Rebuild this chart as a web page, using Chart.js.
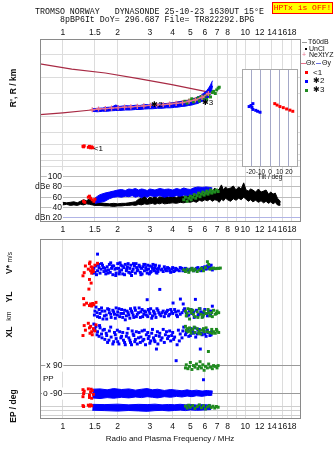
<!DOCTYPE html>
<html>
<head>
<meta charset="utf-8">
<script src="https://cdn.jsdelivr.net/npm/chart.js@4.4.1/dist/chart.umd.min.js"></script>
<style>
  body { margin: 0; width: 335px; height: 451px; position: relative; overflow: hidden; background: #fff;
         font-family: "Liberation Sans", Arial, sans-serif; color: #111; }
  canvas { position: absolute; }
  .txt { position: absolute; white-space: pre; line-height: 10px; font-size: 8px; }
  .lg { font-size: 7px; }
  .mono { font-family: "Liberation Mono", "DejaVu Sans Mono", monospace; font-size: 8.3px; }
  .rot { position: absolute; white-space: nowrap; transform: translate(-50%, -50%) rotate(-90deg);
         font-weight: bold; font-size: 8.5px; line-height: 10px; }
  .sw { position: absolute; }
</style>
</head>
<body>
<canvas id="cTop" width="335" height="236" style="left:0;top:0"></canvas>
<canvas id="cLow" width="335" height="216" style="left:0;top:235px"></canvas>
<canvas id="cTilt" width="66" height="118" style="left:236px;top:65px"></canvas>

<div class="txt mono" style="left:35px;top:7px">TROMSO NORWAY   DYNASONDE 25-10-23 1630UT 15°E</div>
<div class="txt mono" style="left:60px;top:15px">8pBP6It DoY= 296.687 File= TR822292.BPG</div>
<div class="txt mono" style="left:272px;top:2px;width:61px;height:12px;box-sizing:border-box;border:1px solid #f00;background:#ff0;color:#f00;text-align:center;font-size:8px">HPTx is OFF!</div>

<!-- legend -->
<div class="sw" style="left:302px;top:42px;width:5px;height:1px;background:#999"></div>
<div class="txt lg" style="left:308px;top:37px">T60dB</div>
<div class="sw" style="left:305px;top:48px;width:2px;height:2px;background:#000"></div>
<div class="txt lg" style="left:309px;top:44px">UnCl</div>
<div class="txt lg" style="left:302px;top:50px;color:#e8708a">+</div>
<div class="txt lg" style="left:309px;top:50px">NeXtYZ</div>
<div class="sw" style="left:301px;top:63px;width:5px;height:1px;background:#e8708a"></div>
<div class="txt lg" style="left:306px;top:58px">Θx</div>
<div class="sw" style="left:316px;top:63px;width:5px;height:1px;background:#6870e0"></div>
<div class="txt lg" style="left:322px;top:58px">Θy</div>
<div class="sw" style="left:305px;top:71px;width:3px;height:3px;background:#f00"></div>
<div class="txt" style="left:313px;top:68px">&lt;1</div>
<div class="sw" style="left:305px;top:80px;width:3px;height:3px;background:#00f"></div>
<div class="txt" style="left:313px;top:76px">✱2</div>
<div class="sw" style="left:305px;top:89px;width:3px;height:3px;background:#1f8a1f"></div>
<div class="txt" style="left:313px;top:85px">✱3</div>

<!-- axis titles -->
<div class="rot" style="left:13px;top:88px">R', R / km</div>
<div class="rot" style="left:9px;top:263px">V* <span style="font-size:6.5px;font-weight:normal">m/s</span></div>
<div class="rot" style="left:9px;top:297px">YL</div>
<div class="rot" style="left:9px;top:316px;font-size:7px;font-weight:normal">km</div>
<div class="rot" style="left:9px;top:332px">XL</div>
<div class="rot" style="left:13px;top:406px">EP / deg</div>
<div class="txt" style="left:43px;top:374px">PP</div>
<div class="txt" style="left:170px;top:434px;transform:translateX(-50%)">Radio and Plasma Frequency / MHz</div>
<div class="txt" style="left:270px;top:172px;transform:translateX(-50%);font-size:6.5px">Tilt / deg</div>

<script>
var FONT = '"Liberation Sans", Arial, sans-serif';

// ---- axes
var freqTicks = [1, 1.5, 2, 3, 4, 5, 6, 7, 8, 9, 10, 12, 14, 16, 18];
var freqLabelsTop = ['1', '1.5', '2', '3', '4', '5', '6', '7', '8', '', '10', '12', '14', '16', '18'];
var freqLabelsMid = ['1', '1.5', '2', '3', '4', '5', '6', '7', '8', '9', '10', '12', '14', '16', '18'];
var rangeTicks = [80, 90, 100, 120, 150, 200, 300, 400, 600, 800];
var rangeLabels = ['80', '90', '100', '120', '150', '200', '300', '400', '600', '800'];
var dbTicks = [20, 40, 60, 80, 100];
var dbLabels = ['dBn 20', '40', '60', 'dBe 80', '100'];
var tiltTicks = [-20, -10, 0, 10, 20];
var tiltLabels = ['-20', '-10', '0', '10', '20'];
var vTicks = [100, 0, -100];
var vLabels = ['100', '0', '+-100'];
var ylTicks = [0, -100];
var ylLabels = ['0', '+-100'];
var xlTicks = [0, -100];
var xlLabels = ['0', '-100'];
var ppTicks = [90, -90];
var ppLabels = ['x 90', 'o -90'];
var epTicks = [10, 1, 0.1];
var epLabels = ['10.', '', '0.1'];

// ---- R' (km) vs f (MHz)
var thetaUpper = [[0.75, 512], [1.12, 466], [1.71, 434], [2.6, 392], [3.96, 352], [6.02, 312], [6.3, 306]];
var thetaLower = [[0.75, 205], [1.0, 212], [1.39, 222], [2.0, 232], [3.0, 243], [4.0, 254], [5.0, 268], [5.7, 285], [6.3, 306]];
var neXtYZ = [[1.45, 224], [1.57, 227], [1.71, 229], [1.85, 231], [2.01, 233], [2.18, 235], [2.36, 236], [2.56, 238],
  [2.78, 240], [3.02, 242], [3.27, 244], [3.55, 246], [3.85, 248], [4.18, 251], [4.53, 255], [4.92, 261],
  [5.33, 268], [5.79, 280], [6.28, 300]];
var x2Low = [[1.45, 218], [1.55, 216], [1.65, 218], [1.75, 218], [1.85, 220], [1.95, 221], [2.05, 221], [2.2, 223],
  [2.35, 223], [2.5, 225], [2.65, 225], [2.8, 227], [2.95, 228], [3.1, 228], [3.3, 230], [3.5, 230], [3.7, 232],
  [3.9, 232], [4.1, 234], [4.3, 235], [4.5, 238], [4.7, 239], [4.9, 242], [5.1, 244], [5.3, 248], [5.5, 251],
  [5.7, 258], [5.9, 263], [6.1, 270], [6.3, 280], [6.45, 298], [6.55, 320], [6.62, 345]];
var x2High = [[1.45, 228], [1.55, 230], [1.65, 231], [1.75, 234], [1.85, 235], [1.95, 244], [2.05, 238], [2.2, 241],
  [2.35, 240], [2.5, 243], [2.65, 242], [2.8, 246], [2.95, 245], [3.1, 248], [3.3, 247], [3.5, 250], [3.7, 249],
  [3.9, 253], [4.1, 253], [4.3, 258], [4.5, 259], [4.7, 264], [4.9, 265], [5.1, 271], [5.3, 274], [5.5, 283],
  [5.7, 289], [5.9, 301], [6.1, 311], [6.3, 331], [6.45, 350], [6.55, 368], [6.62, 378]];
var x3Range = [[4.67, 261], [4.8, 252], [4.95, 266], [5.09, 273], [5.2, 258], [5.35, 270], [5.53, 278], [5.6, 262],
  [5.75, 284], [5.9, 275], [6.02, 288], [6.15, 270], [6.3, 295], [6.45, 282], [6.6, 305], [6.7, 312], [6.85, 300],
  [6.97, 320], [7.1, 330], [7.2, 336]];
var r1Range = [[1.29, 116], [1.3, 115], [1.31, 117], [1.38, 114], [1.4, 116], [1.42, 113], [1.44, 115], [1.46, 113]];
var traceLabels = [[1.48, 111, '<1'], [3.05, 246, '✱2'], [5.78, 256, '✱3']];

// ---- tilt inset (deg, km)
var tiltBlue = [[-18, 262], [-20, 253], [-22, 248], [-19, 244], [-18, 235], [-15, 231], [-13, 227], [-10.5, 223]];
var tiltRed = [[5, 262], [7.5, 255], [10.5, 248], [14, 243], [17.5, 237], [21, 232], [24, 227]];

// ---- amplitude dB
var dbBlackLow = [[1.0, 45], [1.05, 46], [1.1, 44], [1.15, 45], [1.2, 44], [1.25, 46], [1.3, 45], [1.35, 47], [1.4, 46],
  [1.45, 45], [1.5, 44], [1.6, 44], [1.7, 43], [1.8, 43], [1.9, 42], [2.0, 43], [2.1, 43], [2.2, 44], [2.3, 44],
  [2.4, 45], [2.5, 44], [2.6, 46], [2.7, 45], [2.8, 47], [2.9, 46], [3.0, 47], [3.1, 48], [3.2, 46], [3.3, 48],
  [3.4, 47], [3.5, 49], [3.6, 47], [3.8, 48], [4.0, 49], [4.2, 48], [4.4, 50], [4.6, 49], [4.8, 51], [5.0, 50],
  [5.2, 52], [5.4, 50], [5.6, 54], [5.8, 52], [6.0, 55], [6.2, 53], [6.4, 56], [6.6, 52], [6.8, 55], [7.0, 54],
  [7.2, 50], [7.4, 56], [7.6, 53], [7.8, 58], [8.0, 55], [8.3, 52], [8.6, 57], [8.9, 54], [9.2, 58], [9.5, 55],
  [9.8, 60], [10.1, 56], [10.4, 52], [10.7, 55], [11.0, 51], [11.4, 54], [11.8, 50], [12.2, 53], [12.6, 49],
  [13.0, 52], [13.4, 48], [13.8, 51], [14.2, 47], [14.6, 50], [15.0, 45], [15.4, 44], [15.6, 45]];
var dbBlackHigh = [[1.0, 50], [1.05, 49], [1.1, 50], [1.15, 51], [1.2, 49], [1.25, 52], [1.3, 55], [1.35, 53], [1.4, 57],
  [1.45, 54], [1.5, 52], [1.6, 49], [1.7, 48], [1.8, 47], [1.9, 48], [2.0, 47], [2.1, 48], [2.2, 48], [2.3, 49],
  [2.4, 50], [2.5, 51], [2.6, 56], [2.7, 58], [2.8, 64], [2.9, 55], [3.0, 60], [3.1, 58], [3.2, 62], [3.3, 57],
  [3.4, 61], [3.5, 59], [3.6, 63], [3.8, 60], [4.0, 62], [4.2, 59], [4.4, 64], [4.6, 61], [4.8, 65], [5.0, 62],
  [5.2, 68], [5.4, 64], [5.6, 70], [5.8, 66], [6.0, 72], [6.2, 68], [6.4, 75], [6.6, 70], [6.8, 78], [7.0, 72],
  [7.2, 76], [7.4, 84], [7.6, 74], [7.8, 80], [8.0, 76], [8.3, 78], [8.6, 82], [8.9, 74], [9.2, 80], [9.5, 76],
  [9.8, 88], [10.1, 74], [10.4, 72], [10.7, 76], [11.0, 74], [11.4, 70], [11.8, 76], [12.2, 70], [12.6, 72],
  [13.0, 74], [13.4, 66], [13.8, 70], [14.2, 66], [14.6, 68], [15.0, 58], [15.4, 54], [15.6, 50]];
var dbBlueLow = [[1.5, 48], [1.55, 49], [1.6, 50], [1.7, 52], [1.8, 57], [1.9, 60], [2.0, 61], [2.1, 60], [2.2, 62],
  [2.3, 61], [2.4, 63], [2.5, 60], [2.6, 62], [2.7, 59], [2.8, 62], [2.9, 60], [3.0, 63], [3.2, 61], [3.4, 63],
  [3.6, 60], [3.8, 62], [4.0, 61], [4.2, 63], [4.4, 62], [4.6, 64], [4.8, 63], [5.0, 64], [5.2, 66], [5.5, 67],
  [5.8, 68], [6.1, 70], [6.4, 71], [6.6, 73]];
var dbBlueHigh = [[1.5, 58], [1.55, 62], [1.6, 65], [1.7, 68], [1.8, 70], [1.9, 72], [2.0, 74], [2.1, 75], [2.2, 73],
  [2.3, 76], [2.4, 75], [2.5, 77], [2.6, 74], [2.7, 76], [2.8, 75], [2.9, 73], [3.0, 76], [3.2, 74], [3.4, 77],
  [3.6, 75], [3.8, 76], [4.0, 74], [4.2, 77], [4.4, 75], [4.6, 78], [4.8, 76], [5.0, 75], [5.2, 78], [5.5, 80],
  [5.8, 79], [6.1, 80], [6.4, 79], [6.6, 78]];
var dbGreen = [[4.6, 55], [4.7, 60], [4.8, 52], [4.9, 58], [5.0, 62], [5.05, 55], [5.15, 60], [5.25, 65], [5.35, 58],
  [5.45, 63], [5.55, 68], [5.65, 61], [5.75, 66], [5.85, 70], [5.95, 64], [6.05, 68], [6.15, 72], [6.25, 66],
  [6.35, 70], [6.45, 74], [6.55, 68], [6.65, 72], [6.8, 70], [6.95, 74], [7.1, 71]];
var dbRed = [[1.3, 52], [1.32, 50], [1.38, 60], [1.4, 62], [1.42, 58], [1.45, 55], [1.48, 52], [1.5, 56]];

// ---- V* (m/s)
var vBlue = [[1.48, 10], [1.5, -15], [1.52, 25], [1.55, 100], [1.55, -5], [1.58, 15], [1.6, -20], [1.62, 5], [1.65, 30],
  [1.68, -10], [1.7, 10], [1.72, -25], [1.75, 20], [1.78, 0], [1.8, 35], [1.82, -15], [1.85, 10], [1.88, -30],
  [1.9, 25], [1.93, 5], [1.96, -20], [2.0, 40], [2.02, 10], [2.05, -10], [2.08, 30], [2.1, 0], [2.13, -25],
  [2.16, 15], [2.2, 35], [2.23, -5], [2.26, 20], [2.3, -15], [2.33, 10], [2.36, 30], [2.4, -10], [2.43, 5],
  [2.47, 25], [2.5, -20], [2.54, 15], [2.58, 0], [2.62, 30], [2.66, -15], [2.7, 10], [2.75, 20], [2.8, -5],
  [2.85, 15], [2.9, -20], [2.95, 5], [3.0, 25], [3.05, -10], [3.1, 10], [3.15, 0], [3.2, 15], [3.25, -15],
  [3.3, 5], [3.35, 10], [3.4, -123], [3.45, 0], [3.55, -10], [3.65, 5], [3.75, 15], [3.85, -5], [3.95, 5],
  [4.05, -10], [4.15, 10], [4.25, 0], [4.35, -5], [4.5, 10], [4.6, 0], [4.75, 5], [4.9, -5], [5.1, 10], [5.3, 0],
  [5.5, 15], [5.7, -5], [5.9, 10], [6.0, 20], [6.1, 5], [6.3, 10], [6.5, 30], [6.6, 0],
  [1.53, -30], [1.63, 40], [1.73, -5], [1.83, 45], [1.95, -35], [2.06, 45], [2.18, -30], [2.28, 40], [2.38, -35],
  [2.52, 40], [2.68, -30], [2.82, 35], [2.98, -25], [3.12, 35], [3.28, -20], [3.38, 25],
  [1.47, -20], [1.57, 35], [1.67, 15], [1.77, -20], [1.87, 25], [1.97, 10], [2.04, -25], [2.12, 25], [2.24, 5],
  [2.34, -20], [2.44, 40], [2.56, -5], [2.64, 20], [2.72, -25], [2.78, 35], [2.88, 0], [2.92, 30], [3.02, -15],
  [3.08, 20], [3.18, -5], [3.22, 30], [3.32, -10], [3.5, 5], [3.6, 20], [3.7, -5], [3.8, 10], [3.9, -15], [4.0, 15],
  [4.1, -5], [4.2, 5], [4.4, 15], [4.55, -5], [4.7, 10], [4.85, 0], [5.0, 5], [5.2, -5], [5.4, 10], [5.6, 5],
  [5.8, 15], [6.2, 25], [6.4, 15]];
var vRed = [[1.29, -37], [1.31, -17], [1.33, 25], [1.38, 5], [1.4, 40], [1.41, 50], [1.42, -5], [1.43, 20], [1.44, -20],
  [1.45, 15], [1.47, -10], [1.5, 30], [1.55, 42], [1.4, -60], [1.43, -83], [1.39, -121], [1.46, 0]];
var vGreen = [[4.6, 0], [4.7, -10], [4.8, 5], [4.9, -15], [5.0, 0], [5.1, 10], [5.2, -5], [5.3, 5], [5.45, -10], [5.6, 0],
  [5.75, 10], [5.9, -5], [6.05, 15], [6.2, 52], [6.3, 35], [6.4, 5], [6.55, 10], [6.7, 12], [6.85, 8], [7.0, 10],
  [7.15, 10], [7.3, 12]];

// ---- YL / XL (km)
var ylBlue = [[1.5, -60], [1.52, -35], [1.55, -95], [1.58, -50], [1.6, -75], [1.63, -40], [1.66, -110], [1.7, -60],
  [1.73, -85], [1.76, -45], [1.8, -70], [1.84, -100], [1.88, -55], [1.92, -80], [1.96, -40], [2.0, -65], [2.05, -95],
  [2.1, -50], [2.15, -75], [2.2, -115], [2.25, -60], [2.3, -85], [2.35, -45], [2.4, -70], [2.45, -100], [2.5, -55],
  [2.56, -80], [2.62, -40], [2.68, -65], [2.74, -95], [2.8, -60], [2.87, -85], [2.9, 12], [2.94, -50], [3.0, -75],
  [3.07, -105], [3.14, -60], [3.2, -80], [3.28, -45], [3.36, -70], [3.45, -90], [3.55, -60], [3.65, -75],
  [3.75, -55], [3.85, -80], [3.95, -65], [4.02, -9], [4.1, -50], [4.2, -85], [4.3, -60], [4.41, 16], [4.5, -70],
  [4.57, -15], [4.65, -45], [4.8, -90], [4.95, -60], [5.1, -75], [5.25, -100], [5.33, 14], [5.4, -55], [5.55, -80],
  [5.7, -65], [5.85, -95], [6.0, -50], [6.15, -75], [6.3, -60], [6.45, -85], [6.6, -29],
  [1.49, -85], [1.54, -70], [1.59, -100], [1.64, -60], [1.69, -90], [1.74, -110], [1.79, -50], [1.83, -80],
  [1.9, -65], [1.94, -105], [1.99, -85], [2.03, -45], [2.08, -75], [2.13, -100], [2.18, -55], [2.23, -90],
  [2.28, -70], [2.33, -105], [2.38, -60], [2.43, -85], [2.48, -40], [2.53, -95], [2.6, -70], [2.66, -100],
  [2.72, -50], [2.78, -80], [2.84, -65], [2.92, -95], [2.97, -60], [3.03, -45], [3.1, -90], [3.17, -70],
  [3.24, -100], [3.32, -55], [3.4, -80], [3.5, -70], [3.6, -95], [3.7, -65], [3.8, -90], [3.9, -50], [4.0, -75],
  [4.15, -65], [4.25, -95], [4.4, -80], [4.6, -55], [4.75, -70], [4.9, -85], [5.05, -50], [5.2, -65], [5.5, -90],
  [5.65, -45], [5.9, -70], [6.2, -90], [6.5, -60]];
var ylRed = [[1.3, 19], [1.31, -20], [1.35, -10], [1.4, -25], [1.42, -15], [1.44, -28], [1.46, -12], [1.48, -20], [1.52, -5]];
var ylGreen = [[4.7, -60], [4.75, -90], [4.85, -45], [4.95, -110], [5.05, -70], [5.15, -55], [5.3, -95], [5.45, -65],
  [5.6, -45], [5.7, -80], [5.8, -100], [5.95, -60], [6.1, -75], [6.25, -50], [6.4, -90], [6.55, -70], [6.7, -55],
  [6.85, -80], [7.0, -60], [7.15, -70], [4.8, -75], [5.0, -50], [5.2, -80], [5.5, -100], [5.9, -85], [6.3, -70],
  [6.6, -95], [6.95, -75]];
var xlBlue = [[1.48, 60], [1.5, 30], [1.52, 45], [1.55, 10], [1.58, -20], [1.6, 35], [1.63, -5], [1.66, 20], [1.7, -40],
  [1.73, 0], [1.76, -60], [1.8, 15], [1.84, -25], [1.88, -70], [1.92, 5], [1.96, -35], [2.0, -55], [2.05, 10],
  [2.1, -20], [2.15, -45], [2.2, -75], [2.25, 0], [2.3, -30], [2.35, -60], [2.4, 15], [2.45, -15], [2.5, -40],
  [2.56, -70], [2.62, 5], [2.68, -25], [2.74, -50], [2.8, 20], [2.87, -10], [2.94, -35], [3.0, -65], [3.07, 0],
  [3.14, -30], [3.2, -55], [3.26, -103], [3.3, 10], [3.38, -20], [3.45, -45], [3.55, 25], [3.65, -10], [3.75, -35],
  [3.85, 15], [3.95, -15], [4.05, -40], [4.18, -179], [4.23, -75], [4.3, 20], [4.4, -5], [4.5, -30], [4.6, 40],
  [4.75, 5], [4.9, -20], [5.05, 30], [5.2, 0], [5.35, -25], [5.5, 20], [5.67, -103], [5.8, -10], [5.95, 15],
  [6.1, -20], [6.25, 5], [6.4, -15], [6.55, 10],
  [1.49, 20], [1.54, -10], [1.59, 50], [1.64, -30], [1.69, 25], [1.74, -15], [1.79, -45], [1.83, 40], [1.9, -55],
  [1.94, -10], [1.99, 20], [2.03, -70], [2.08, -30], [2.13, 5], [2.18, -60], [2.23, -20], [2.28, 30], [2.33, -45],
  [2.38, -75], [2.43, -5], [2.48, -55], [2.53, 10], [2.6, -30], [2.66, -60], [2.72, 15], [2.78, -40], [2.84, -75],
  [2.92, 5], [2.97, -20], [3.03, -50], [3.1, 25], [3.17, -45], [3.24, -15], [3.32, -70], [3.4, 0], [3.5, -30],
  [3.6, -60], [3.7, 10], [3.8, -20], [3.9, -50], [4.0, 5], [4.1, -25], [4.35, -50], [4.55, 15], [4.7, -10],
  [4.85, 25], [5.0, -15], [5.15, 10], [5.3, 35], [5.45, -5], [5.6, 25], [5.75, 0], [6.0, -5], [6.2, 20], [6.5, -10]];
var xlRed = [[1.29, -15], [1.31, 50], [1.33, 20], [1.38, 65], [1.4, 35], [1.41, 0], [1.42, 45], [1.44, 10], [1.45, -10],
  [1.47, 30], [1.5, 15], [1.52, 55]];
var xlGreen = [[4.7, 45], [4.75, 20], [4.85, 10], [4.95, 35], [5.05, 0], [5.15, 25], [5.3, 5], [5.45, 30], [5.6, 15],
  [5.7, -5], [5.8, 20], [5.95, 10], [6.1, 35], [6.28, -119], [6.4, 5], [6.55, 25], [6.7, 10], [6.85, 0], [7.0, 15],
  [7.15, 5], [4.8, 30], [5.0, 15], [5.25, 40], [5.55, 0], [5.9, 30], [6.2, 10], [6.6, 0], [6.95, 25]];

// ---- PP (deg) and EP (deg)
var ppGreen = [[4.7, 75], [4.75, 95], [4.85, 70], [4.95, 85], [5.0, 110], [5.1, 65], [5.2, 90], [5.3, 80], [5.4, 100],
  [5.5, 70], [5.6, 85], [5.65, 115], [5.75, 75], [5.85, 95], [5.95, 60], [6.05, 85], [6.2, 75], [6.3, 100],
  [6.45, 80], [6.6, 70], [6.7, 90], [6.85, 85], [7.0, 75], [7.1, 90]];
var ppRed = [[1.29, -65], [1.29, -110], [1.3, -90], [1.31, -75], [1.38, -60], [1.4, -100], [1.42, -80], [1.44, -120],
  [1.45, -70], [1.47, -95], [1.4, -115], [1.43, -62]];
var ppBlueLow = [[1.45, -118], [1.6, -122], [1.75, -116], [1.9, -120], [2.1, -114], [2.3, -118], [2.5, -112],
  [2.7, -116], [2.9, -110], [3.1, -114], [3.3, -118], [3.6, -110], [3.9, -114], [4.2, -108], [4.5, -112],
  [4.8, -106], [5.1, -110], [5.4, -104], [5.8, -108], [6.2, -102], [6.6, -100]];
var ppBlueHigh = [[1.45, -62], [1.6, -60], [1.75, -66], [1.9, -58], [2.1, -64], [2.3, -60], [2.5, -68], [2.7, -62],
  [2.9, -58], [3.1, -66], [3.3, -62], [3.6, -70], [3.9, -64], [4.2, -68], [4.5, -72], [4.8, -66], [5.1, -72],
  [5.4, -68], [5.8, -74], [6.2, -70], [6.6, -76]];
var ppBlueDots = [[5.9, -1], [6.4, -95], [6.5, -80]];
var epRed = [[1.29, 20], [1.3, 12], [1.38, 25], [1.4, 15], [1.42, 30], [1.44, 18]];
var epGreen = [[4.7, 15], [4.8, 5], [4.9, 25], [5.0, 8], [5.15, 20], [5.3, 4], [5.45, 12], [5.6, 30], [5.75, 6],
  [5.9, 18], [6.05, 3], [6.2, 10], [6.35, 22], [6.5, 7], [6.65, 14], [6.8, 5], [6.95, 12], [7.1, 8]];
var epBlueLow = [[1.45, 1.5], [1.7, 1.2], [2.0, 0.9], [2.3, 1.3], [2.6, 1.0], [2.9, 0.8], [3.2, 1.2], [3.5, 1.4],
  [3.8, 1.0], [4.1, 1.3], [4.4, 1.6], [4.7, 1.2], [5.0, 1.8], [5.4, 1.4], [5.8, 1.6], [6.2, 2.0], [6.5, 2.2]];
var epBlueHigh = [[1.45, 40], [1.7, 35], [2.0, 45], [2.3, 30], [2.6, 40], [2.9, 35], [3.2, 45], [3.5, 30], [3.8, 38],
  [4.1, 32], [4.4, 42], [4.7, 30], [5.0, 36], [5.4, 28], [5.8, 34], [6.2, 30], [6.5, 25]];

var RED = '#ff0000', BLUE = '#0000ff', GREEN = '#1f8a1f', THETA = '#a82a44', PINK = '#e8708a';

function xy(a) {
  return a.map(function(p) { return {x: p[0], y: p[1]}; });
}
function dots(a, color, yID, order) {
  return {type: 'scatter', data: xy(a), yAxisID: yID, pointStyle: 'rect', pointRadius: 2.1,
    backgroundColor: color, borderWidth: 0, order: order};
}
function line(a, color, yID, order) {
  return {type: 'line', data: xy(a), yAxisID: yID, borderColor: color, borderWidth: 1.2,
    pointRadius: 0, fill: false, order: order};
}
function band(lo, hi, color, yID, order) {
  return [
    {type: 'line', data: xy(lo), yAxisID: yID, borderColor: color, borderWidth: 1, pointRadius: 0, fill: false, order: order},
    {type: 'line', data: xy(hi), yAxisID: yID, borderColor: color, borderWidth: 1, pointRadius: 0, fill: '-1',
      backgroundColor: color, order: order}
  ];
}

function freqAxis(position, labels, grid, size) {
  return {
    type: 'logarithmic', position: position, min: 0.75, max: 20.2,
    afterBuildTicks: function(s) { s.ticks = freqTicks.map(function(v) { return {value: v}; }); },
    afterFit: function(s) { s.height = size; s.paddingLeft = 0; s.paddingRight = 0; },
    grid: {display: grid, color: '#dcdcdc', drawTicks: false},
    border: {display: false},
    ticks: {autoSkip: false, maxRotation: 0, padding: position === 'top' ? 1 : 3, color: '#111',
      font: {family: FONT, size: 8.5}, callback: function(v, i) { return labels[i]; }}
  };
}
function valAxis(type, min, max, ticks, labels, gridColor, extra) {
  var t = {autoSkip: false, padding: 4, color: '#111', font: {family: FONT, size: 8.5},
    callback: function(v, i) { return labels[i]; }};
  if (extra) { for (var k in extra) { t[k] = extra[k]; } }
  return {
    type: type, position: 'left', min: min, max: max,
    afterBuildTicks: function(s) { s.ticks = ticks.map(function(v) { return {value: v}; }); },
    afterFit: function(s) { s.width = 0; s.paddingTop = 0; s.paddingBottom = 0; },
    grid: {display: !!gridColor, color: gridColor || '#fff', drawTicks: false},
    border: {display: false},
    ticks: t
  };
}

var frame = {
  id: 'frame',
  afterDraw: function(chart, args, opts) {
    var a = chart.chartArea, c = chart.ctx;
    c.save();
    c.strokeStyle = opts.color || '#888';
    c.lineWidth = 1;
    c.strokeRect(Math.round(a.left) + 0.5, Math.round(a.top) + 0.5,
      Math.round(a.right - a.left) - 1, Math.round(a.bottom - a.top) - 1);
    c.restore();
  }
};
var whiteArea = {
  id: 'whiteArea',
  beforeDraw: function(chart) {
    var a = chart.chartArea;
    chart.ctx.save();
    chart.ctx.fillStyle = '#fff';
    chart.ctx.fillRect(a.left, a.top, a.right - a.left, a.bottom - a.top);
    chart.ctx.restore();
  }
};
var traceText = {
  id: 'traceText',
  afterDatasetsDraw: function(chart) {
    var c = chart.ctx;
    c.save();
    c.fillStyle = '#000';
    c.font = '8px ' + FONT;
    c.textBaseline = 'middle';
    traceLabels.forEach(function(l) {
      c.fillText(l[2], chart.scales.x.getPixelForValue(l[0]), chart.scales.yR.getPixelForValue(l[1]));
    });
    c.restore();
  }
};

var base = {responsive: false, animation: false, devicePixelRatio: 1, events: []};

var neSet = {type: 'line', data: xy(neXtYZ), yAxisID: 'yR', borderColor: PINK, borderWidth: 1.3,
  pointStyle: 'cross', pointRadius: 2.6, pointBorderColor: PINK, pointBorderWidth: 1.3, fill: false, order: 2};

new Chart(document.getElementById('cTop'), {
  type: 'scatter',
  data: {datasets: [
    line(thetaUpper, THETA, 'yR', 8),
    line(thetaLower, THETA, 'yR', 8)
  ].concat(band(x2Low, x2High, BLUE, 'yR', 6), [
    dots(x3Range, GREEN, 'yR', 5),
    dots(r1Range, RED, 'yR', 4),
    neSet
  ], band(dbBlackLow, dbBlackHigh, '#000', 'yD', 9), band(dbBlueLow, dbBlueHigh, BLUE, 'yD', 7), [
    dots(dbGreen, GREEN, 'yD', 5),
    dots(dbRed, RED, 'yD', 4)
  ])},
  options: Object.assign({}, base, {
    layout: {padding: {left: 40, right: 34, top: 0, bottom: 0}},
    plugins: {legend: {display: false}, tooltip: {enabled: false}, frame: {color: '#8a8a8a'}},
    scales: {
      xt: freqAxis('top', freqLabelsTop, false, 39),
      x: freqAxis('bottom', freqLabelsMid, true, 14),
      yR: valAxis('logarithmic', 29.74, 800, rangeTicks, rangeLabels, '#dcdcdc'),
      yD: valAxis('linear', 11.6, 368.7, dbTicks, dbLabels,
        function(c) { return c.tick && c.tick.value === 20 ? '#b0b4e6' : '#bdbdbd'; },
        {mirror: true, crossAlign: 'far', padding: -5, showLabelBackdrop: true, backdropColor: '#fff',
          backdropPadding: 1})
    }
  }),
  plugins: [frame, traceText]
});

new Chart(document.getElementById('cLow'), {
  type: 'scatter',
  data: {datasets: [
    dots(vBlue, BLUE, 'yV', 5), dots(vGreen, GREEN, 'yV', 4), dots(vRed, RED, 'yV', 3),
    dots(ylBlue, BLUE, 'yYL', 5), dots(ylGreen, GREEN, 'yYL', 4), dots(ylRed, RED, 'yYL', 3),
    dots(xlBlue, BLUE, 'yXL', 5), dots(xlGreen, GREEN, 'yXL', 4), dots(xlRed, RED, 'yXL', 3),
    dots(ppGreen, GREEN, 'yPP', 4), dots(ppRed, RED, 'yPP', 3), dots(ppBlueDots, BLUE, 'yPP', 5)
  ].concat(band(ppBlueLow, ppBlueHigh, BLUE, 'yPP', 6), band(epBlueLow, epBlueHigh, BLUE, 'yEP', 6), [
    dots(epGreen, GREEN, 'yEP', 4), dots(epRed, RED, 'yEP', 3)
  ])},
  options: Object.assign({}, base, {
    layout: {padding: {left: 40, right: 34, top: 2, bottom: 0}},
    plugins: {legend: {display: false}, tooltip: {enabled: false}, frame: {color: '#8a8a8a'}},
    scales: {
      x: freqAxis('bottom', freqLabelsTop, true, 32),
      yV: valAxis('linear', -941.9, 195.6, vTicks, vLabels, null),
      yYL: valAxis('linear', -741.9, 395.6, ylTicks, ylLabels, null),
      yXL: valAxis('linear', -559.4, 614.8, xlTicks, xlLabels, null),
      yPP: valAxis('linear', -253.6, 904.2, ppTicks, ppLabels, '#9a9a9a',
        {mirror: true, crossAlign: 'far', padding: 3, showLabelBackdrop: true, backdropColor: '#fff',
          backdropPadding: 1}),
      yEP: valAxis('logarithmic', 0.01084, 7.76e41, epTicks, epLabels, '#cfcfcf')
    }
  }),
  plugins: [frame]
});

new Chart(document.getElementById('cTilt'), {
  type: 'scatter',
  data: {datasets: [dots(tiltBlue, BLUE, 'y', 1), dots(tiltRed, RED, 'y', 1)]},
  options: Object.assign({}, base, {
    layout: {padding: {left: 6, right: 4, top: 0, bottom: 0}},
    plugins: {legend: {display: false}, tooltip: {enabled: false}, frame: {color: '#a8a8a8'}},
    scales: {
      x: {type: 'linear', min: -29.5, max: 29.5,
        afterBuildTicks: function(s) { s.ticks = tiltTicks.map(function(v) { return {value: v}; }); },
        afterFit: function(s) { s.height = 16; s.paddingLeft = 0; s.paddingRight = 0; },
        grid: {color: '#a4a8c8', drawTicks: false}, border: {display: false},
        ticks: {autoSkip: false, maxRotation: 0, padding: 1, color: '#111', font: {family: FONT, size: 6.5},
          callback: function(v, i) { return tiltLabels[i]; }}},
      y: {type: 'logarithmic', min: 80, max: 501, display: false}
    }
  }),
  plugins: [whiteArea, frame]
});
</script>
</body>
</html>
